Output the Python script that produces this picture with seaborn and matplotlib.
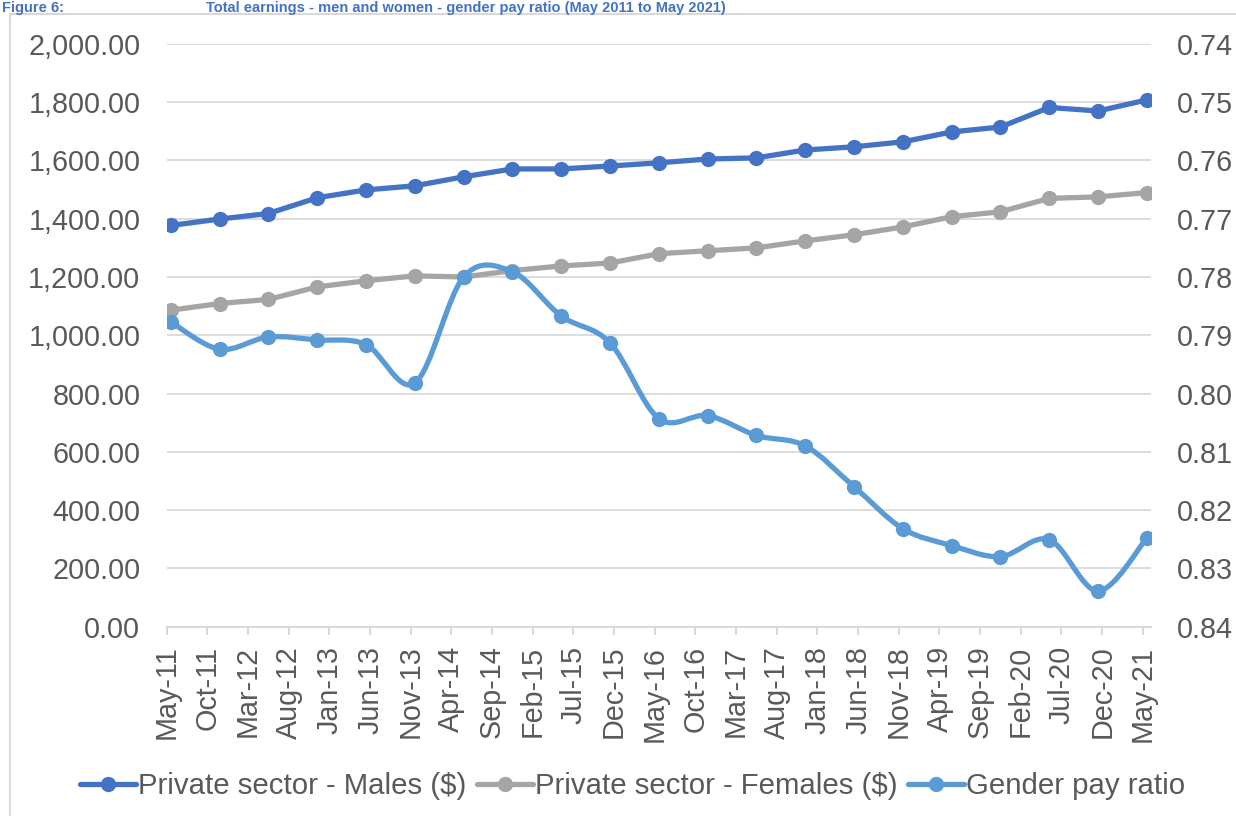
import numpy as np
import pandas as pd
import matplotlib
matplotlib.use("Agg")
import matplotlib.pyplot as plt
import seaborn as sns
from matplotlib.path import Path
from matplotlib.patches import PathPatch, Rectangle
from matplotlib.lines import Line2D
from matplotlib.ticker import StrMethodFormatter, MultipleLocator, FixedLocator

# ---------------- data ----------------
periods = ["2011-05", "2011-11", "2012-05", "2012-11", "2013-05", "2013-11",
           "2014-05", "2014-11", "2015-05", "2015-11", "2016-05", "2016-11",
           "2017-05", "2017-11", "2018-05", "2018-11", "2019-05", "2019-11",
           "2020-05", "2020-11", "2021-05"]
males = [1377, 1399, 1418, 1472, 1499, 1513, 1544, 1571, 1571, 1581, 1592,
         1605, 1609, 1636, 1647, 1664, 1698, 1715, 1782, 1770, 1808]
females = [1086, 1109, 1123, 1166, 1187, 1204, 1200, 1222, 1238, 1248, 1280,
           1290, 1300, 1324, 1345, 1372, 1407, 1424, 1470, 1475, 1490]
ratio = [0.7877, 0.7924, 0.7903, 0.7908, 0.7916, 0.7982, 0.7800, 0.7791,
         0.7867, 0.7913, 0.8043, 0.8038, 0.8072, 0.8090, 0.8160, 0.8232,
         0.8261, 0.8280, 0.8251, 0.8339, 0.8248]
tick_labels = ["May-11", "Oct-11", "Mar-12", "Aug-12", "Jan-13", "Jun-13",
               "Nov-13", "Apr-14", "Sep-14", "Feb-15", "Jul-15", "Dec-15",
               "May-16", "Oct-16", "Mar-17", "Aug-17", "Jan-18", "Jun-18",
               "Nov-18", "Apr-19", "Sep-19", "Feb-20", "Jul-20", "Dec-20",
               "May-21"]
series_names = ["Private sector - Males ($)", "Private sector - Females ($)",
                "Gender pay ratio"]
title_prefix = "Figure 6:"
title_text = "Total earnings - men and women - gender pay ratio (May 2011 to May 2021)"

# ---------------- style ----------------
c_male, c_female, c_ratio = "#4472C4", "#A5A5A5", "#5B9BD5"
grid_c = "#D9D9D9"
txt_c = "#595959"
fs = 20.7
leg_fs = 21.2
lw = 3.8
ms = 11

sns.set_theme(style="white")
plt.rcParams['font.family'] = ['Liberation Sans', 'DejaVu Sans']

start = pd.Period("2011-05", freq="M")
def month_off(p):
    return (p - start).n

x_pts = np.array([month_off(pd.Period(p, freq="M")) for p in periods]) + 0.5
x_ticks = [month_off(pd.Period(pd.to_datetime(t, format="%b-%y"), freq="M"))
           for t in tick_labels]

df = pd.DataFrame({
    "x": np.concatenate([x_pts, x_pts]),
    "value": males + females,
    "series": [series_names[0]] * len(males) + [series_names[1]] * len(females),
})

fig = plt.figure(figsize=(12.36, 8.16), dpi=100)
ax = fig.add_axes([0.1349, 0.2322, 0.9312 - 0.1349, 0.9461 - 0.2322])

sns.lineplot(data=df, x="x", y="value", hue="series",
             palette={series_names[0]: c_male, series_names[1]: c_female},
             marker="o", markersize=ms, markeredgewidth=0, linewidth=lw,
             ax=ax, legend=False, sort=False)

ax.set_xlim(0, 121)
ax.set_ylim(0, 2000)
ax.yaxis.set_major_locator(MultipleLocator(200))
ax.yaxis.set_major_formatter(StrMethodFormatter("{x:,.2f}"))
ax.xaxis.set_major_locator(FixedLocator(x_ticks))
ax.set_xticklabels(tick_labels, rotation=90)
ax.grid(axis="y", color=grid_c, linewidth=1.3)
ax.grid(axis="x", visible=False)
ax.set_axisbelow(True)
for s in ["top", "left", "right"]:
    ax.spines[s].set_visible(False)
ax.spines["bottom"].set_color(grid_c)
ax.spines["bottom"].set_linewidth(1.5)
ax.tick_params(axis="x", bottom=True, length=5.8, width=1.5, color=grid_c,
               labelsize=fs, labelcolor=txt_c, pad=8)
ax.tick_params(axis="y", left=False, length=0, labelsize=fs,
               labelcolor=txt_c, pad=19)
ax.set_xlabel("")
ax.set_ylabel("")

# secondary axis (inverted)
ax2 = ax.twinx()
ax2.set_ylim(0.84, 0.74)
ax2.yaxis.set_major_locator(MultipleLocator(0.01))
ax2.yaxis.set_major_formatter(StrMethodFormatter("{x:.2f}"))
for s in ["top", "left", "right", "bottom"]:
    ax2.spines[s].set_visible(False)
ax2.tick_params(axis="y", right=False, length=0, labelsize=fs,
                labelcolor=txt_c, pad=19)
ax2.grid(False)

# smoothed ratio line (Catmull-Rom style Bezier as in Excel smooth lines)
pts = np.column_stack([x_pts, np.array(ratio)])
n = len(pts)
verts = [tuple(pts[0])]
codes = [Path.MOVETO]
for i in range(n - 1):
    p0 = pts[i - 1] if i > 0 else pts[i]
    p1 = pts[i]
    p2 = pts[i + 1]
    p3 = pts[i + 2] if i + 2 < n else pts[i + 1]
    c1 = p1 + (p2 - p0) / 6.0
    c2 = p2 - (p3 - p1) / 6.0
    verts += [tuple(c1), tuple(c2), tuple(p2)]
    codes += [Path.CURVE4] * 3
ax2.add_patch(PathPatch(Path(verts, codes), fill=False, edgecolor=c_ratio,
                        linewidth=lw, capstyle="round", joinstyle="round",
                        zorder=2))
sns.scatterplot(x=x_pts, y=ratio, ax=ax2, color=c_ratio, s=ms ** 2,
                linewidth=0, zorder=3, legend=False)
ax2.set_xlim(0, 121)
ax2.set_ylim(0.84, 0.74)
ax2.set_ylabel("")

# legend
handles = [Line2D([], [], color=c, lw=lw, marker="o", markersize=ms,
                  markeredgewidth=0) for c in (c_male, c_female, c_ratio)]
fig.legend(handles, series_names, loc="center", bbox_to_anchor=(0.512, 0.037),
           ncol=3, frameon=False, fontsize=leg_fs, handlelength=1.9,
           handletextpad=0.07, columnspacing=0.35, labelcolor=txt_c)

# chart border and title strip
fig.add_artist(Rectangle((10 / 1236, -0.1), 1.2, 1.1 - 14 / 816,
                         transform=fig.transFigure, fill=False,
                         edgecolor=grid_c, linewidth=1.5))
fig.text(2 / 1236, 1 - 1 / 816, title_prefix, color=c_male, fontsize=10.5,
         fontweight="bold", va="top", ha="left")
fig.text(206 / 1236, 1 - 1 / 816, title_text, color=c_male, fontsize=10.5,
         fontweight="bold", va="top", ha="left")

fig.savefig("out.png", dpi=100)
